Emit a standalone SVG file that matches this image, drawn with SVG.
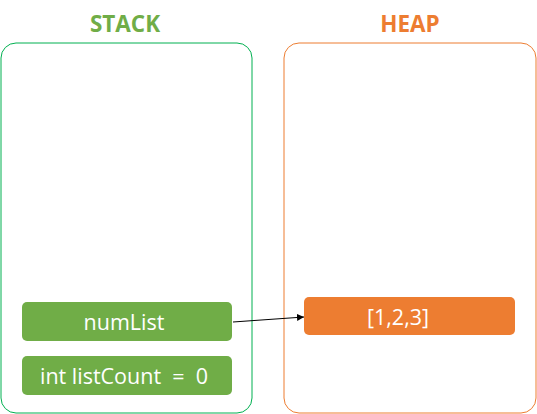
<svg xmlns="http://www.w3.org/2000/svg" width="537" height="414" viewBox="0 0 537 414">
<defs>
<style>
.title{font-family:"Open Sans","Noto Sans",sans-serif;font-weight:bold;font-size:22.5px;text-anchor:middle}
.lbl{font-family:"Open Sans","Noto Sans",sans-serif;font-size:21.5px;fill:#fff;text-anchor:middle;white-space:pre}
.g{fill:#70AD47}
.o{fill:#ED7D31}
</style>
<marker id="ah" viewBox="0 0 10 10" refX="10" refY="5" markerWidth="7" markerHeight="7" orient="auto" markerUnits="userSpaceOnUse"><path d="M0,0 L10,5 L0,10 z" fill="#000"/></marker>
</defs>
<g id="stack">
<rect x="1" y="43" width="251" height="370" rx="15" fill="none" stroke="#00B050" stroke-width="1"/>
<text class="title" x="125" y="32" fill="#70AD47">STACK</text>
</g>
<g id="heap">
<rect x="284" y="43" width="252" height="370" rx="15" fill="none" stroke="#ED7D31" stroke-width="1"/>
<text class="title" x="410" y="32" fill="#ED7D31">HEAP</text>
</g>
<g id="numList">
<rect class="g" x="22" y="302" width="210" height="39" rx="5"/>
<text class="lbl" x="124" y="330">numList</text>
</g>
<g id="listCount">
<rect class="g" x="22" y="356" width="210" height="39" rx="5"/>
<text class="lbl" x="124" y="384" xml:space="preserve">int listCount  =  0</text>
</g>
<g id="array">
<rect class="o" x="304" y="297" width="211" height="38" rx="5"/>
<text class="lbl" x="398" y="325">[1,2,3]</text>
</g>
<g id="connectors">
<line x1="233" y1="322" x2="304" y2="317" stroke="#000" stroke-width="1" marker-end="url(#ah)"/>
</g>
</svg>
